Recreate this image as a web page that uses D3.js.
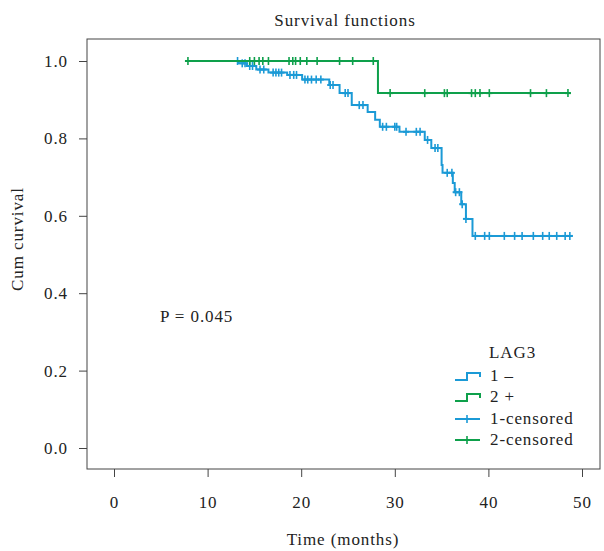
<!DOCTYPE html>
<html>
<head>
<meta charset="utf-8">
<script src="https://cdn.jsdelivr.net/npm/d3@7"></script>
<style>
  body { margin: 0; background: #fff; }
  svg text { font-family: "Liberation Serif", "DejaVu Serif", serif !important; fill: #222; letter-spacing: 0.9px; }
</style>
</head>
<body>
<div id="chart"></div>
<script>
// Set dimensions
const width = 604;
const height = 551;
const fontSize = 17;

// Tick values
const xTicks = [0, 10, 20, 30, 40, 50];
const yTicks = [0, 0.2, 0.4, 0.6, 0.8, 1.0];

// Group 1 (LAG3 -): step times and survival after each step
const blueTimes = [13.1, 13.3, 14.2, 15.2, 16.5, 18.5, 20.1, 23.0, 24.1, 25.4, 27.1, 27.9, 28.4, 30.5, 33.2, 33.9, 35.0, 35.1, 36.2, 36.4, 37.1, 37.6, 38.3];
const blueSurv = [1.0, 0.994, 0.987, 0.978, 0.970, 0.964, 0.952, 0.938, 0.917, 0.886, 0.868, 0.848, 0.830, 0.817, 0.796, 0.775, 0.731, 0.711, 0.685, 0.661, 0.630, 0.592, 0.548];
const blueEnd = 49.0;
const blueCensored = [13.2, 13.7, 14.0, 14.5, 14.8, 15.6, 16.0, 17.0, 17.3, 17.6, 17.9, 18.8, 19.2, 19.5,
    20.4, 20.7, 21.1, 21.6, 22.1, 23.1, 23.4, 24.7, 25.0, 26.2, 26.6, 28.7, 29.1, 30.0, 30.2, 31.2,
    32.3, 32.7, 33.5, 34.3, 34.6, 35.6, 36.1, 36.5, 36.9, 37.2, 37.6, 38.6, 39.6, 40.1, 41.7, 42.8,
    43.6, 44.8, 45.8, 46.5, 47.3, 48.2, 48.7];

// Group 2 (LAG3 +)
const greenTimes = [7.9, 28.2];
const greenSurv = [1.0, 0.917];
const greenEnd = 48.8;
const greenCensored = [7.9, 14.5, 15.0, 15.5, 15.9, 16.5, 18.7, 19.1, 19.4, 19.9, 20.6, 21.7, 24.1, 25.5, 27.7,
    29.5, 33.2, 35.3, 35.6, 38.2, 38.6, 39.1, 40.1, 44.5, 46.2, 48.5];

const blue = "#1b9ad6";
const green = "#0ea04b";

const svg = d3.select("#chart")
    .append("svg")
    .attr("width", width)
    .attr("height", height);

// Frame
const frame = { left: 87, right: 600, top: 39, bottom: 469 };
svg.append("rect")
    .attr("x", frame.left)
    .attr("y", frame.top)
    .attr("width", frame.right - frame.left)
    .attr("height", frame.bottom - frame.top)
    .attr("fill", "none")
    .attr("stroke", "#444")
    .attr("stroke-width", 1);

// Scales
const x = d3.scaleLinear().domain([0, 50]).range([114, 582]);
const y = d3.scaleLinear().domain([0, 1]).range([448, 61]);

// Axes
const xAxis = svg.append("g")
    .attr("transform", `translate(0,${frame.bottom})`)
    .call(d3.axisBottom(x).tickValues(xTicks).tickSize(8).tickPadding(19).tickFormat(d3.format("d")));
xAxis.select(".domain").remove();

const yAxis = svg.append("g")
    .attr("transform", `translate(${frame.left},0)`)
    .call(d3.axisLeft(y).tickValues(yTicks).tickSize(8).tickPadding(11).tickFormat(d3.format(".1f")));
yAxis.select(".domain").remove();

svg.selectAll(".tick line").attr("stroke", "#444");
[xAxis, yAxis].forEach(a => a.attr("font-family", null).attr("font-size", fontSize));
svg.selectAll(".tick text").attr("fill", "#222");

// Survival curves
const line = d3.line()
    .x(d => x(d[0]))
    .y(d => y(d[1]))
    .curve(d3.curveStepAfter);

function stepPoints(times, surv, end) {
    const pts = times.map((t, i) => [t, surv[i]]);
    pts.push([end, surv[surv.length - 1]]);
    return pts;
}

function survAt(times, surv, t) {
    let v = surv[0];
    times.forEach((s, i) => { if (s <= t) v = surv[i]; });
    return v;
}

function drawGroup(times, surv, end, censored, color) {
    svg.append("path")
        .attr("d", line(stepPoints(times, surv, end)))
        .attr("fill", "none")
        .attr("stroke", color)
        .attr("stroke-width", 2);

    const marks = svg.append("g");
    censored.forEach(t => {
        const cx = x(t);
        const cy = y(survAt(times, surv, t));
        marks.append("line")
            .attr("x1", cx).attr("x2", cx)
            .attr("y1", cy - 4).attr("y2", cy + 4)
            .attr("stroke", color).attr("stroke-width", 1.6);
        marks.append("line")
            .attr("x1", cx - 3).attr("x2", cx + 3)
            .attr("y1", cy).attr("y2", cy)
            .attr("stroke", color).attr("stroke-width", 2);
    });
}

drawGroup(blueTimes, blueSurv, blueEnd, blueCensored, blue);
drawGroup(greenTimes, greenSurv, greenEnd, greenCensored, green);

// Titles
svg.append("text")
    .attr("x", 345).attr("y", 26)
    .attr("text-anchor", "middle")
    .attr("font-size", fontSize)
    .text("Survival functions");

svg.append("text")
    .attr("x", 343).attr("y", 545)
    .attr("text-anchor", "middle")
    .attr("font-size", fontSize)
    .text("Time (months)");

svg.append("text")
    .attr("transform", "translate(23,239) rotate(-90)")
    .attr("text-anchor", "middle")
    .attr("font-size", fontSize)
    .text("Cum curvival");

svg.append("text")
    .attr("x", 160).attr("y", 322)
    .attr("font-size", fontSize)
    .text("P = 0.045");

// Legend
const legend = svg.append("g");
legend.append("text")
    .attr("x", 489).attr("y", 358)
    .attr("font-size", fontSize)
    .text("LAG3");

const legendItems = [
    { label: "1 \u2013", color: blue, type: "step", y: 376 },
    { label: "2 +", color: green, type: "step", y: 397 },
    { label: "1-censored", color: blue, type: "cens", y: 419 },
    { label: "2-censored", color: green, type: "cens", y: 440 }
];

legendItems.forEach(d => {
    if (d.type === "step") {
        legend.append("path")
            .attr("d", `M455,${d.y + 4}H467V${d.y - 3}H480V${d.y + 1}`)
            .attr("fill", "none")
            .attr("stroke", d.color)
            .attr("stroke-width", 2);
    } else {
        legend.append("line")
            .attr("x1", 455).attr("x2", 480)
            .attr("y1", d.y).attr("y2", d.y)
            .attr("stroke", d.color).attr("stroke-width", 2);
        legend.append("line")
            .attr("x1", 467).attr("x2", 467)
            .attr("y1", d.y - 4).attr("y2", d.y + 4)
            .attr("stroke", d.color).attr("stroke-width", 1.6);
    }
    legend.append("text")
        .attr("x", 490).attr("y", d.y + 5)
        .attr("font-size", fontSize)
        .text(d.label);
});
</script>
</body>
</html>
